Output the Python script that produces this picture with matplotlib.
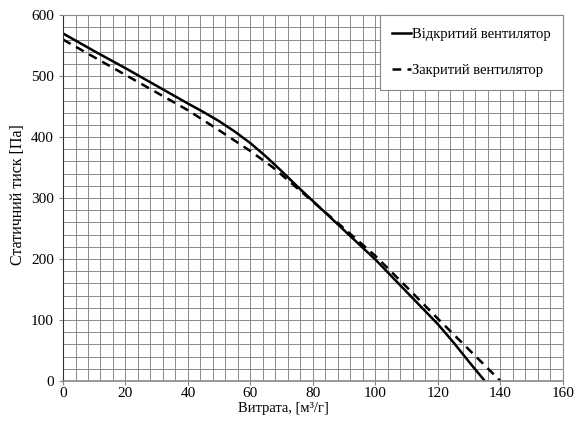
import numpy as np
import matplotlib
matplotlib.use('Agg')
import matplotlib.pyplot as plt

# curve readings
x_open = [0, 10, 20, 30, 40, 45, 50, 55, 60, 65, 70, 75, 80, 90, 100, 110, 120, 125, 130, 135]
p_open = [570, 541, 513, 484, 455, 441, 426, 409, 390, 368, 344, 319, 295, 247, 199, 146, 93, 63, 31, 0]
x_closed = [0, 10, 20, 30, 40, 50, 60, 67, 70, 80, 90, 100, 110, 120, 130, 140]
p_closed = [560, 531, 502, 473, 444, 411, 377, 351, 338, 294, 250, 205, 154, 102, 51, 0]

label_open = 'Відкритий вентилятор'
label_closed = 'Закритий вентилятор'
x_ticks = [0, 20, 40, 60, 80, 100, 120, 140, 160]
y_ticks = [0, 100, 200, 300, 400, 500, 600]

plt.rcParams['font.family'] = ['Liberation Serif', 'DejaVu Serif']
plt.rcParams['font.size'] = 10

fig = plt.figure(figsize=(5.78, 4.21), dpi=100)
ax = fig.add_axes([0.109, 0.095, 0.865, 0.869])

# grid every 4 on x and 20 on y
ax.set_xticks(np.arange(0, 161, 4), minor=True)
ax.set_yticks(np.arange(0, 601, 20), minor=True)
ax.grid(which='both', color='#8a8a8a', lw=0.7)
ax.tick_params(which='minor', length=0)
ax.tick_params(which='major', length=3, color='#888888', labelsize=11)
ax.tick_params(axis='x', pad=1.5)

ax.plot(x_open, p_open, color='black', lw=1.8, label=label_open)
ax.plot(x_closed, p_closed, color='black', lw=1.8, ls=(0, (3.5, 2.5)), label=label_closed)

ax.set_xlim(0, 160)
ax.set_ylim(0, 600)
ax.set_xticks(x_ticks)
ax.set_yticks(y_ticks)
ax.set_xlabel('Витрата, [м³/г]', fontsize=10.5)
ax.set_ylabel('Статичний тиск [Па]', fontsize=11.5)
ax.xaxis.set_label_coords(0.44, -0.058)
ax.yaxis.set_label_coords(-0.075, 0.51)

for s in ['top', 'right', 'bottom']:
    ax.spines[s].set_color('#888888')
ax.spines['bottom'].set_linewidth(1.2)
ax.spines['left'].set_color('#333333')

leg = ax.legend(loc='upper right', borderaxespad=0, handlelength=1.3, handletextpad=0.05,
                labelspacing=1.6, fancybox=False, framealpha=1, borderpad=0.85,
                fontsize=10.5)
leg.get_frame().set_edgecolor('#888888')
leg.get_frame().set_linewidth(0.8)

fig.savefig('out.png', dpi=100)
